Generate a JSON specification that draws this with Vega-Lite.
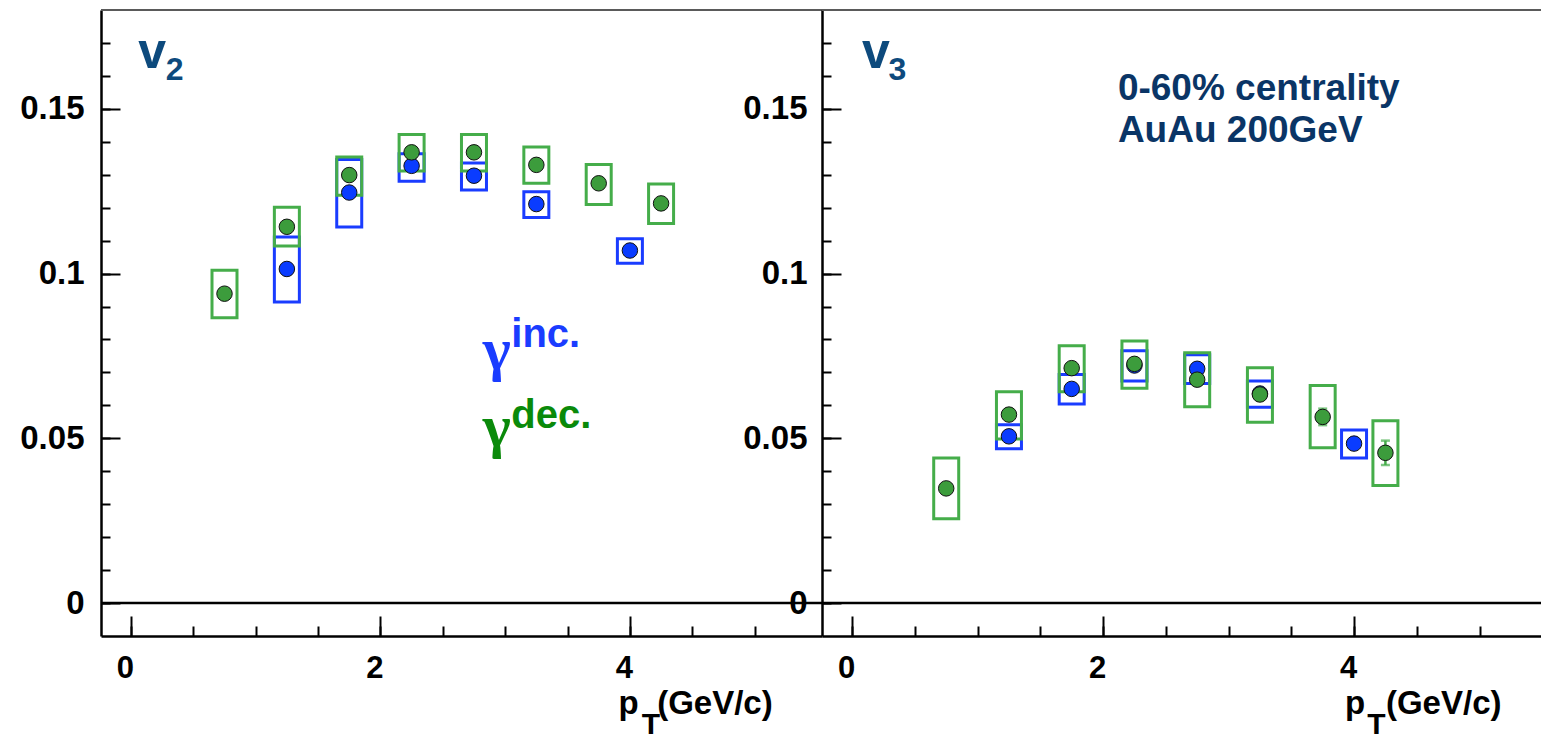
{
  "$schema": "https://vega.github.io/schema/vega-lite/v6.json",
  "autosize": {"type": "none"},
  "padding": {"left": 101, "top": 10, "right": 1440, "bottom": 728},
  "config": {
    "view": {"stroke": null},
    "font": "Liberation Sans",
    "axis": {"grid": false, "title": null}
  },
  "spacing": 0,
  "bounds": "flush",
  "datasets": {
    "v2": [
      {"s": "inc", "pt": 1.25, "v": 0.1014, "lo": 0.0914, "hi": 0.1111},
      {"s": "inc", "pt": 1.75, "v": 0.1246, "lo": 0.1141, "hi": 0.1346},
      {"s": "inc", "pt": 2.25, "v": 0.1327, "lo": 0.1280, "hi": 0.1364},
      {"s": "inc", "pt": 2.75, "v": 0.1297, "lo": 0.1254, "hi": 0.1336},
      {"s": "inc", "pt": 3.25, "v": 0.1211, "lo": 0.1170, "hi": 0.1248},
      {"s": "inc", "pt": 4.0, "v": 0.1070, "lo": 0.1031, "hi": 0.1106},
      {"s": "dec", "pt": 0.75, "v": 0.0939, "lo": 0.0866, "hi": 0.1010},
      {"s": "dec", "pt": 1.25, "v": 0.1142, "lo": 0.1084, "hi": 0.1201},
      {"s": "dec", "pt": 1.75, "v": 0.1299, "lo": 0.1238, "hi": 0.1354},
      {"s": "dec", "pt": 2.25, "v": 0.1368, "lo": 0.1311, "hi": 0.1422},
      {"s": "dec", "pt": 2.75, "v": 0.1368, "lo": 0.1311, "hi": 0.1422},
      {"s": "dec", "pt": 3.25, "v": 0.1330, "lo": 0.1274, "hi": 0.1384},
      {"s": "dec", "pt": 3.75, "v": 0.1274, "lo": 0.1210, "hi": 0.1331},
      {"s": "dec", "pt": 4.25, "v": 0.1213, "lo": 0.1152, "hi": 0.1272}
    ],
    "v3": [
      {"s": "inc", "pt": 1.25, "v": 0.0506, "lo": 0.0468, "hi": 0.0541},
      {"s": "inc", "pt": 1.75, "v": 0.0650, "lo": 0.0604, "hi": 0.0694},
      {"s": "inc", "pt": 2.25, "v": 0.0721, "lo": 0.0674, "hi": 0.0766},
      {"s": "inc", "pt": 2.75, "v": 0.0711, "lo": 0.0666, "hi": 0.0754},
      {"s": "inc", "pt": 3.25, "v": 0.0636, "lo": 0.0594, "hi": 0.0674},
      {"s": "inc", "pt": 4.0, "v": 0.0484, "lo": 0.0440, "hi": 0.0525},
      {"s": "dec", "pt": 0.75, "v": 0.0348, "lo": 0.0256, "hi": 0.0440},
      {"s": "dec", "pt": 1.25, "v": 0.0572, "lo": 0.0498, "hi": 0.0641},
      {"s": "dec", "pt": 1.75, "v": 0.0713, "lo": 0.0641, "hi": 0.0781},
      {"s": "dec", "pt": 2.25, "v": 0.0726, "lo": 0.0652, "hi": 0.0795},
      {"s": "dec", "pt": 2.75, "v": 0.0678, "lo": 0.0596, "hi": 0.0760},
      {"s": "dec", "pt": 3.25, "v": 0.0633, "lo": 0.0549, "hi": 0.0714},
      {"s": "dec", "pt": 3.75, "v": 0.0565, "lo": 0.0471, "hi": 0.0660, "elo": 0.0540, "ehi": 0.0590},
      {"s": "dec", "pt": 4.25, "v": 0.0456, "lo": 0.0357, "hi": 0.0553, "elo": 0.0419, "ehi": 0.0493}
    ]
  },
  "hconcat": [
    {
      "width": 721,
      "height": 626,
      "data": {"name": "v2"},
      "resolve": {"axis": {"x": "independent", "y": "independent"}},
      "layer": [
        {
          "data": {"values": [{}]},
          "mark": {"type": "rule", "color": "#5a5a5a", "strokeWidth": 2},
          "encoding": {"y": {"datum": 0.18, "type": "quantitative", "scale": {"domain": [-0.01, 0.18], "nice": false, "zero": false}, "axis": null}}
        },
        {
          "data": {"values": [{}]},
          "mark": {"type": "rule", "color": "#000000", "strokeWidth": 2.5},
          "encoding": {"y": {"datum": 0, "type": "quantitative", "scale": {"domain": [-0.01, 0.18], "nice": false, "zero": false}, "axis": null}}
        },
        {
          "transform": [{"filter": "datum.s == 'inc'"}],
          "mark": {"type": "bar", "width": 25, "fillOpacity": 0, "stroke": "#1a3cff", "strokeWidth": 3},
          "encoding": {
            "x": {"field": "pt", "type": "quantitative", "scale": {"domain": [-0.2, 5.5], "nice": false, "zero": false},
                  "axis": {"orient": "bottom", "values": [0, 2, 4], "format": "d", "ticks": false, "domain": true, "domainColor": "#000000", "domainWidth": 2.5, "labelFontSize": 31, "labelFontWeight": "bold", "labelColor": "#000000", "labelPadding": 17, "labelOffset": -6, "labelFlush": false, "labelOverlap": false}},
            "y": {"field": "lo", "type": "quantitative", "scale": {"domain": [-0.01, 0.18], "nice": false, "zero": false},
                  "axis": {"orient": "left", "values": [0, 0.05, 0.1, 0.15], "format": "~g", "ticks": false, "domain": true, "domainColor": "#000000", "domainWidth": 2.5, "labelFontSize": 33, "labelFontWeight": "bold", "labelColor": "#000000", "labelPadding": 17, "labelFlush": false, "labelOverlap": false}},
            "y2": {"field": "hi"}
          }
        },
        {
          "transform": [{"filter": "datum.s == 'dec'"}],
          "mark": {"type": "bar", "width": 25, "fillOpacity": 0, "stroke": "#45ad4a", "strokeWidth": 3},
          "encoding": {
            "x": {"field": "pt", "type": "quantitative", "scale": {"domain": [-0.2, 5.5], "nice": false, "zero": false},
                  "axis": {"orient": "bottom", "values": [0, 2, 4], "labels": false, "domain": false, "ticks": true, "tickSize": -20, "tickWidth": 2, "tickColor": "#000000"}},
            "y": {"field": "lo", "type": "quantitative", "scale": {"domain": [-0.01, 0.18], "nice": false, "zero": false},
                  "axis": {"orient": "left", "values": [0, 0.05, 0.1, 0.15], "labels": false, "domain": false, "ticks": true, "tickSize": -19, "tickWidth": 2, "tickColor": "#000000"}},
            "y2": {"field": "hi"}
          }
        },
        {
          "transform": [{"filter": "datum.s == 'inc'"}],
          "mark": {"type": "point", "filled": true, "size": 240, "fill": "#0a3cff", "stroke": "#111111", "strokeWidth": 1, "opacity": 1},
          "encoding": {
            "x": {"field": "pt", "type": "quantitative", "scale": {"domain": [-0.2, 5.5], "nice": false, "zero": false},
                  "axis": {"orient": "bottom", "values": [0, 0.5, 1, 1.5, 2, 2.5, 3, 3.5, 4, 4.5, 5], "labels": false, "domain": false, "ticks": true, "tickSize": -10, "tickWidth": 2, "tickColor": "#000000"}},
            "y": {"field": "v", "type": "quantitative", "scale": {"domain": [-0.01, 0.18], "nice": false, "zero": false},
                  "axis": {"orient": "left", "values": [0, 0.01, 0.02, 0.03, 0.04, 0.05, 0.06, 0.07, 0.08, 0.09, 0.1, 0.11, 0.12, 0.13, 0.14, 0.15, 0.16, 0.17], "labels": false, "domain": false, "ticks": true, "tickSize": -9, "tickWidth": 2, "tickColor": "#000000"}}
          }
        },
        {
          "transform": [{"filter": "datum.s == 'dec'"}],
          "mark": {"type": "point", "filled": true, "size": 240, "fill": "#3c9c3c", "stroke": "#111111", "strokeWidth": 1, "opacity": 1},
          "encoding": {
            "x": {"field": "pt", "type": "quantitative", "scale": {"domain": [-0.2, 5.5], "nice": false, "zero": false}, "axis": null},
            "y": {"field": "v", "type": "quantitative", "scale": {"domain": [-0.01, 0.18], "nice": false, "zero": false}, "axis": null}
          }
        },
        {
          "data": {"values": [{}]},
          "layer": [
            {"mark": {"type": "text", "text": "v", "fontSize": 50, "fontWeight": "bold", "color": "#0d4a7d", "align": "center", "baseline": "alphabetic"},
             "encoding": {"x": {"datum": 0.17, "type": "quantitative", "scale": {"domain": [-0.2, 5.5], "nice": false, "zero": false}, "axis": null}, "y": {"datum": 0.1624, "type": "quantitative", "scale": {"domain": [-0.01, 0.18], "nice": false, "zero": false}, "axis": null}}},
            {"mark": {"type": "text", "text": "2", "fontSize": 32, "fontWeight": "bold", "color": "#0d4a7d", "align": "left", "baseline": "alphabetic"},
             "encoding": {"x": {"datum": 0.28, "type": "quantitative", "scale": {"domain": [-0.2, 5.5], "nice": false, "zero": false}, "axis": null}, "y": {"datum": 0.1588, "type": "quantitative", "scale": {"domain": [-0.01, 0.18], "nice": false, "zero": false}, "axis": null}}},
            {"mark": {"type": "text", "text": "γ", "fontSize": 60, "fontWeight": "bold", "font": "Liberation Serif", "color": "#1a3cff", "align": "left", "baseline": "alphabetic"},
             "encoding": {"x": {"datum": 2.82, "type": "quantitative", "scale": {"domain": [-0.2, 5.5], "nice": false, "zero": false}, "axis": null}, "y": {"datum": 0.0711, "type": "quantitative", "scale": {"domain": [-0.01, 0.18], "nice": false, "zero": false}, "axis": null}}},
            {"mark": {"type": "text", "text": "inc.", "fontSize": 40, "fontWeight": "bold", "color": "#1a3cff", "align": "left", "baseline": "alphabetic"},
             "encoding": {"x": {"datum": 3.049, "type": "quantitative", "scale": {"domain": [-0.2, 5.5], "nice": false, "zero": false}, "axis": null}, "y": {"datum": 0.0777, "type": "quantitative", "scale": {"domain": [-0.01, 0.18], "nice": false, "zero": false}, "axis": null}}},
            {"mark": {"type": "text", "text": "γ", "fontSize": 60, "fontWeight": "bold", "font": "Liberation Serif", "color": "#0a8a0a", "align": "left", "baseline": "alphabetic"},
             "encoding": {"x": {"datum": 2.82, "type": "quantitative", "scale": {"domain": [-0.2, 5.5], "nice": false, "zero": false}, "axis": null}, "y": {"datum": 0.0477, "type": "quantitative", "scale": {"domain": [-0.01, 0.18], "nice": false, "zero": false}, "axis": null}}},
            {"mark": {"type": "text", "text": "dec.", "fontSize": 40, "fontWeight": "bold", "color": "#0a8a0a", "align": "left", "baseline": "alphabetic"},
             "encoding": {"x": {"datum": 3.049, "type": "quantitative", "scale": {"domain": [-0.2, 5.5], "nice": false, "zero": false}, "axis": null}, "y": {"datum": 0.0531, "type": "quantitative", "scale": {"domain": [-0.01, 0.18], "nice": false, "zero": false}, "axis": null}}},
            {"mark": {"type": "text", "text": "p", "fontSize": 33, "fontWeight": "bold", "color": "#000000", "align": "center", "baseline": "alphabetic"},
             "encoding": {"x": {"datum": 3.99, "type": "quantitative", "scale": {"domain": [-0.2, 5.5], "nice": false, "zero": false}, "axis": null}, "y": {"datum": -0.0337, "type": "quantitative", "scale": {"domain": [-0.01, 0.18], "nice": false, "zero": false}, "axis": null}}},
            {"mark": {"type": "text", "text": "T", "fontSize": 30, "fontWeight": "bold", "color": "#000000", "align": "left", "baseline": "alphabetic"},
             "encoding": {"x": {"datum": 4.095, "type": "quantitative", "scale": {"domain": [-0.2, 5.5], "nice": false, "zero": false}, "axis": null}, "y": {"datum": -0.0398, "type": "quantitative", "scale": {"domain": [-0.01, 0.18], "nice": false, "zero": false}, "axis": null}}},
            {"mark": {"type": "text", "text": "(GeV/c)", "fontSize": 33, "fontWeight": "bold", "color": "#000000", "align": "right", "baseline": "alphabetic"},
             "encoding": {"x": {"datum": 5.145, "type": "quantitative", "scale": {"domain": [-0.2, 5.5], "nice": false, "zero": false}, "axis": null}, "y": {"datum": -0.0337, "type": "quantitative", "scale": {"domain": [-0.01, 0.18], "nice": false, "zero": false}, "axis": null}}}
          ]
        }
      ]
    },
    {
      "width": 719,
      "height": 626,
      "data": {"name": "v3"},
      "resolve": {"axis": {"x": "independent", "y": "independent"}},
      "layer": [
        {
          "data": {"values": [{}]},
          "mark": {"type": "rule", "color": "#5a5a5a", "strokeWidth": 2},
          "encoding": {"y": {"datum": 0.18, "type": "quantitative", "scale": {"domain": [-0.01, 0.18], "nice": false, "zero": false}, "axis": null}}
        },
        {
          "data": {"values": [{}]},
          "mark": {"type": "rule", "color": "#000000", "strokeWidth": 2.5},
          "encoding": {"y": {"datum": 0, "type": "quantitative", "scale": {"domain": [-0.01, 0.18], "nice": false, "zero": false}, "axis": null}}
        },
        {
          "transform": [{"filter": "datum.s == 'inc'"}],
          "mark": {"type": "bar", "width": 25, "fillOpacity": 0, "stroke": "#1a3cff", "strokeWidth": 3},
          "encoding": {
            "x": {"field": "pt", "type": "quantitative", "scale": {"domain": [-0.2, 5.45], "nice": false, "zero": false},
                  "axis": {"orient": "bottom", "values": [0, 2, 4], "format": "d", "ticks": false, "domain": true, "domainColor": "#000000", "domainWidth": 2.5, "labelFontSize": 31, "labelFontWeight": "bold", "labelColor": "#000000", "labelPadding": 17, "labelOffset": -6, "labelFlush": false, "labelOverlap": false}},
            "y": {"field": "lo", "type": "quantitative", "scale": {"domain": [-0.01, 0.18], "nice": false, "zero": false},
                  "axis": {"orient": "left", "values": [0, 0.05, 0.1, 0.15], "format": "~g", "ticks": false, "domain": true, "domainColor": "#000000", "domainWidth": 2.5, "labelFontSize": 33, "labelFontWeight": "bold", "labelColor": "#000000", "labelPadding": 15, "labelFlush": false, "labelOverlap": false}},
            "y2": {"field": "hi"}
          }
        },
        {
          "transform": [{"filter": "datum.s == 'dec'"}],
          "mark": {"type": "bar", "width": 25, "fillOpacity": 0, "stroke": "#45ad4a", "strokeWidth": 3},
          "encoding": {
            "x": {"field": "pt", "type": "quantitative", "scale": {"domain": [-0.2, 5.45], "nice": false, "zero": false},
                  "axis": {"orient": "bottom", "values": [0, 2, 4], "labels": false, "domain": false, "ticks": true, "tickSize": -20, "tickWidth": 2, "tickColor": "#000000"}},
            "y": {"field": "lo", "type": "quantitative", "scale": {"domain": [-0.01, 0.18], "nice": false, "zero": false},
                  "axis": {"orient": "left", "values": [0, 0.05, 0.1, 0.15], "labels": false, "domain": false, "ticks": true, "tickSize": -19, "tickWidth": 2, "tickColor": "#000000"}},
            "y2": {"field": "hi"}
          }
        },
        {
          "transform": [{"filter": "isValid(datum.elo)"}],
          "mark": {"type": "errorbar", "ticks": {"size": 9}, "color": "#45ad4a", "thickness": 2.5},
          "encoding": {
            "x": {"field": "pt", "type": "quantitative", "scale": {"domain": [-0.2, 5.45], "nice": false, "zero": false}, "axis": null},
            "y": {"field": "elo", "type": "quantitative", "scale": {"domain": [-0.01, 0.18], "nice": false, "zero": false}, "axis": null},
            "y2": {"field": "ehi"}
          }
        },
        {
          "transform": [{"filter": "datum.s == 'inc'"}],
          "mark": {"type": "point", "filled": true, "size": 240, "fill": "#0a3cff", "stroke": "#111111", "strokeWidth": 1, "opacity": 1},
          "encoding": {
            "x": {"field": "pt", "type": "quantitative", "scale": {"domain": [-0.2, 5.45], "nice": false, "zero": false},
                  "axis": {"orient": "bottom", "values": [0, 0.5, 1, 1.5, 2, 2.5, 3, 3.5, 4, 4.5, 5], "labels": false, "domain": false, "ticks": true, "tickSize": -10, "tickWidth": 2, "tickColor": "#000000"}},
            "y": {"field": "v", "type": "quantitative", "scale": {"domain": [-0.01, 0.18], "nice": false, "zero": false},
                  "axis": {"orient": "left", "values": [0, 0.01, 0.02, 0.03, 0.04, 0.05, 0.06, 0.07, 0.08, 0.09, 0.1, 0.11, 0.12, 0.13, 0.14, 0.15, 0.16, 0.17], "labels": false, "domain": false, "ticks": true, "tickSize": -9, "tickWidth": 2, "tickColor": "#000000"}}
          }
        },
        {
          "transform": [{"filter": "datum.s == 'dec'"}],
          "mark": {"type": "point", "filled": true, "size": 240, "fill": "#3c9c3c", "stroke": "#111111", "strokeWidth": 1, "opacity": 1},
          "encoding": {
            "x": {"field": "pt", "type": "quantitative", "scale": {"domain": [-0.2, 5.45], "nice": false, "zero": false}, "axis": null},
            "y": {"field": "v", "type": "quantitative", "scale": {"domain": [-0.01, 0.18], "nice": false, "zero": false}, "axis": null}
          }
        },
        {
          "data": {"values": [{}]},
          "layer": [
            {"mark": {"type": "text", "text": "v", "fontSize": 50, "fontWeight": "bold", "color": "#0d4a7d", "align": "center", "baseline": "alphabetic"},
             "encoding": {"x": {"datum": 0.19, "type": "quantitative", "scale": {"domain": [-0.2, 5.45], "nice": false, "zero": false}, "axis": null}, "y": {"datum": 0.1624, "type": "quantitative", "scale": {"domain": [-0.01, 0.18], "nice": false, "zero": false}, "axis": null}}},
            {"mark": {"type": "text", "text": "3", "fontSize": 32, "fontWeight": "bold", "color": "#0d4a7d", "align": "left", "baseline": "alphabetic"},
             "encoding": {"x": {"datum": 0.29, "type": "quantitative", "scale": {"domain": [-0.2, 5.45], "nice": false, "zero": false}, "axis": null}, "y": {"datum": 0.1588, "type": "quantitative", "scale": {"domain": [-0.01, 0.18], "nice": false, "zero": false}, "axis": null}}},
            {"mark": {"type": "text", "text": "0-60% centrality", "fontSize": 37, "fontWeight": "bold", "color": "#0a3566", "align": "left", "baseline": "alphabetic"},
             "encoding": {"x": {"datum": 2.118, "type": "quantitative", "scale": {"domain": [-0.2, 5.45], "nice": false, "zero": false}, "axis": null}, "y": {"datum": 0.1527, "type": "quantitative", "scale": {"domain": [-0.01, 0.18], "nice": false, "zero": false}, "axis": null}}},
            {"mark": {"type": "text", "text": "AuAu 200GeV", "fontSize": 37, "fontWeight": "bold", "color": "#0a3566", "align": "left", "baseline": "alphabetic"},
             "encoding": {"x": {"datum": 2.118, "type": "quantitative", "scale": {"domain": [-0.2, 5.45], "nice": false, "zero": false}, "axis": null}, "y": {"datum": 0.1399, "type": "quantitative", "scale": {"domain": [-0.01, 0.18], "nice": false, "zero": false}, "axis": null}}},
            {"mark": {"type": "text", "text": "p", "fontSize": 33, "fontWeight": "bold", "color": "#000000", "align": "center", "baseline": "alphabetic"},
             "encoding": {"x": {"datum": 4.008, "type": "quantitative", "scale": {"domain": [-0.2, 5.45], "nice": false, "zero": false}, "axis": null}, "y": {"datum": -0.0337, "type": "quantitative", "scale": {"domain": [-0.01, 0.18], "nice": false, "zero": false}, "axis": null}}},
            {"mark": {"type": "text", "text": "T", "fontSize": 30, "fontWeight": "bold", "color": "#000000", "align": "left", "baseline": "alphabetic"},
             "encoding": {"x": {"datum": 4.105, "type": "quantitative", "scale": {"domain": [-0.2, 5.45], "nice": false, "zero": false}, "axis": null}, "y": {"datum": -0.0398, "type": "quantitative", "scale": {"domain": [-0.01, 0.18], "nice": false, "zero": false}, "axis": null}}},
            {"mark": {"type": "text", "text": "(GeV/c)", "fontSize": 33, "fontWeight": "bold", "color": "#000000", "align": "right", "baseline": "alphabetic"},
             "encoding": {"x": {"datum": 5.175, "type": "quantitative", "scale": {"domain": [-0.2, 5.45], "nice": false, "zero": false}, "axis": null}, "y": {"datum": -0.0337, "type": "quantitative", "scale": {"domain": [-0.01, 0.18], "nice": false, "zero": false}, "axis": null}}}
          ]
        }
      ]
    }
  ]
}
